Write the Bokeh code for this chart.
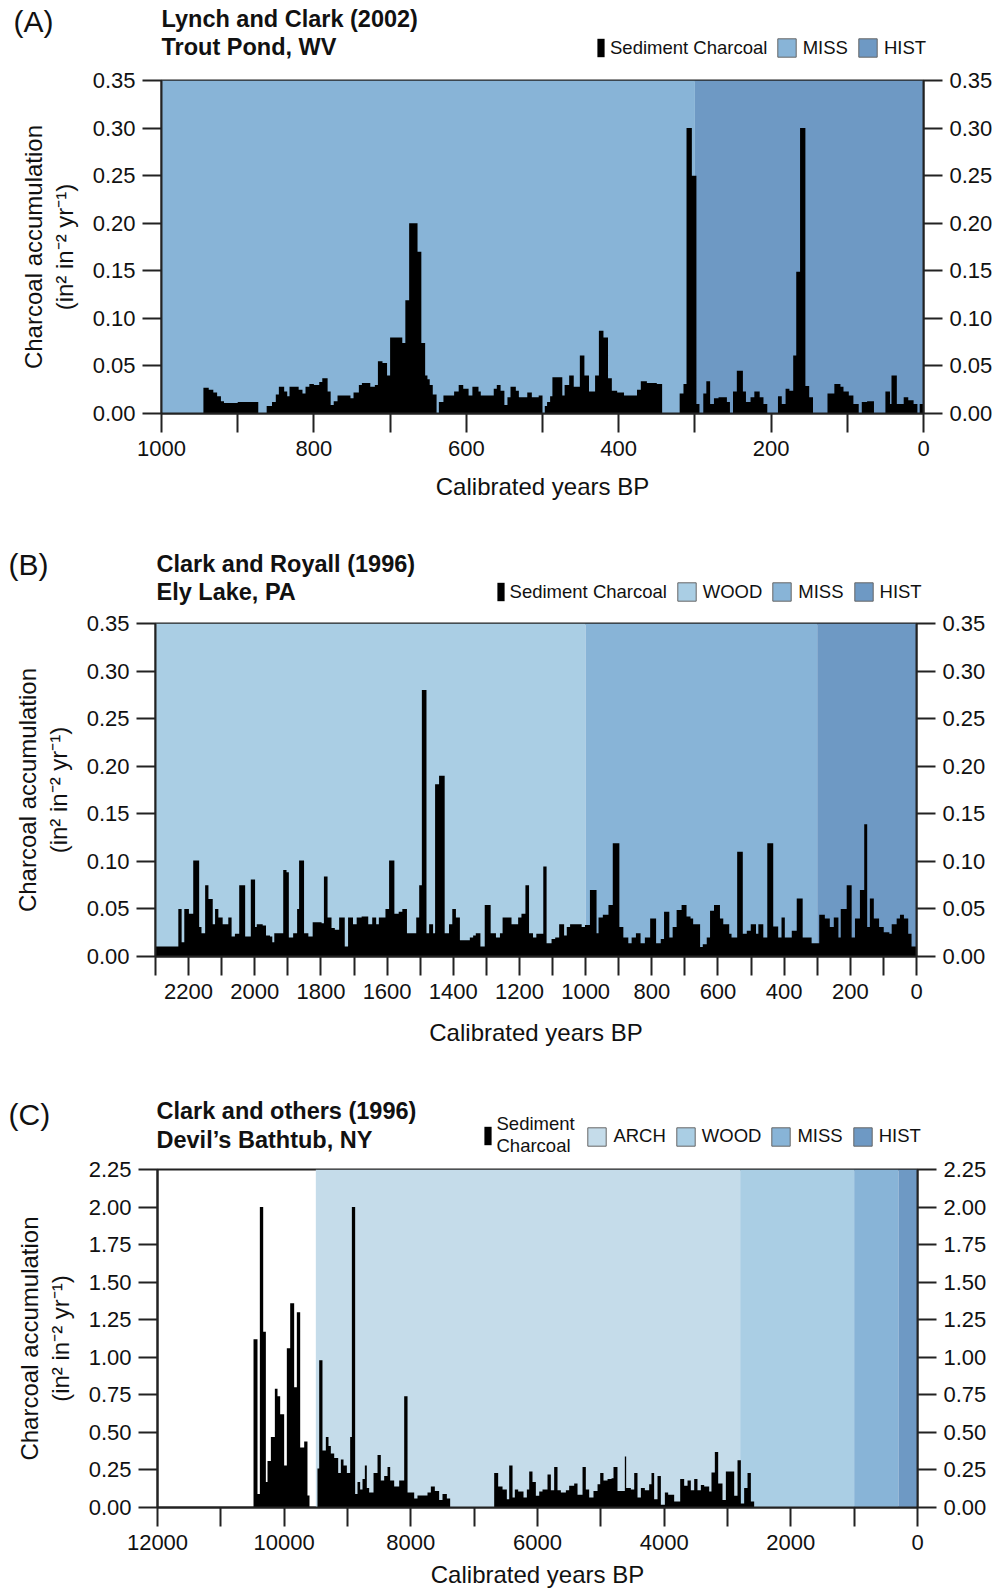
from bokeh.plotting import figure
from bokeh.models import (Range1d, FixedTicker, LinearAxis, PrintfTickFormatter,
                          Label, Legend, LegendItem)
from bokeh.layouts import column
from bokeh.embed import file_html
from bokeh.resources import INLINE

FONT = "Liberation Sans"
INK = "#111111"
AXIS = "#222222"
PAGE_W = 991
BAND_COLORS = {"ARCH": "#C5DCEA", "WOOD": "#AACEE4", "MISS": "#88B4D7", "HIST": "#6E99C4"}

# ---------------- Panel A: Trout Pond, WV ----------------
ageA = [945, 938, 932, 927, 922, 918, 900, 873, 862, 855, 850, 846, 839, 835, 832, 820, 815,
        811, 806, 800, 793, 789, 782, 778, 774, 769, 752, 748, 741, 737, 726, 720, 716, 710,
        704, 700, 684, 680, 675, 664, 659, 654, 651, 648, 644, 639, 636, 630, 616, 610, 604,
        597, 592, 584, 581, 564, 560, 555, 550, 546, 542, 535, 531, 520, 514, 505, 500, 497,
        494, 490, 487, 474, 471, 465, 459, 451, 445, 439, 431, 426, 420, 414, 409, 402, 393,
        376, 371, 363, 350, 343, 320, 315, 311, 304, 298, 294, 289, 285, 280, 275, 269, 258,
        254, 250, 245, 237, 233, 227, 222, 215, 210, 205, 191, 186, 181, 176, 171, 167, 162,
        155, 150, 145, 126, 117, 109, 105, 98, 92, 85, 81, 74, 65, 50, 44, 42, 35, 26, 20, 13,
        8, 5]
valA = [0.027, 0.025, 0.022, 0.018, 0.013, 0.011, 0.012, 0.0, 0.008, 0.012, 0.020, 0.028,
        0.023, 0.018, 0.028, 0.025, 0.021, 0.028, 0.031, 0.030, 0.033, 0.037, 0.023, 0.009,
        0.013, 0.019, 0.016, 0.022, 0.030, 0.032, 0.028, 0.030, 0.055, 0.053, 0.040, 0.080,
        0.074, 0.119, 0.200, 0.170, 0.074, 0.040, 0.036, 0.030, 0.020, 0.0, 0.012, 0.019,
        0.023, 0.030, 0.026, 0.019, 0.028, 0.023, 0.019, 0.026, 0.030, 0.024, 0.009, 0.017,
        0.028, 0.024, 0.017, 0.022, 0.017, 0.019, 0.0, 0.008, 0.012, 0.018, 0.038, 0.019,
        0.030, 0.040, 0.028, 0.061, 0.040, 0.023, 0.040, 0.087, 0.080, 0.037, 0.024, 0.022,
        0.019, 0.025, 0.034, 0.032, 0.031, 0.0, 0.021, 0.031, 0.300, 0.250, 0.010, 0.0,
        0.021, 0.034, 0.010, 0.016, 0.017, 0.012, 0.0, 0.023, 0.045, 0.023, 0.012, 0.017,
        0.023, 0.017, 0.010, 0.0, 0.018, 0.010, 0.026, 0.024, 0.061, 0.149, 0.300, 0.029,
        0.017, 0.0, 0.021, 0.031, 0.028, 0.023, 0.019, 0.010, 0.0, 0.012, 0.013, 0.0, 0.023,
        0.010, 0.040, 0.010, 0.017, 0.014, 0.010, 0.0, 0.010]
endA = 0
bandA_names = ["MISS", "HIST"]
bandA_old = [1000, 300]
bandA_young = [300, 0]
xmajorA = [1000, 800, 600, 400, 200, 0]
xminorA = [900, 700, 500, 300, 100]
yticksA = [0.00, 0.05, 0.10, 0.15, 0.20, 0.25, 0.30, 0.35]

# ---------------- Panel B: Ely Lake, PA ----------------
ageB = [2300, 2231, 2221, 2213, 2199, 2186, 2168, 2161, 2150, 2140, 2127, 2120, 2110, 2097,
        2080, 2070, 2060, 2047, 2029, 2012, 1999, 1994, 1976, 1966, 1954, 1947, 1941, 1914,
        1904, 1897, 1884, 1872, 1866, 1851, 1838, 1825, 1798, 1791, 1780, 1768, 1758, 1745,
        1728, 1718, 1703, 1692, 1677, 1657, 1645, 1633, 1625, 1605, 1594, 1578, 1565, 1554,
        1540, 1512, 1503, 1495, 1481, 1473, 1461, 1455, 1443, 1426, 1413, 1403, 1392, 1380,
        1350, 1340, 1332, 1318, 1305, 1287, 1271, 1259, 1251, 1224, 1204, 1194, 1182, 1171,
        1159, 1149, 1128, 1118, 1103, 1092, 1080, 1065, 1057, 1047, 1012, 1002, 987, 967,
        961, 948, 931, 918, 898, 886, 871, 861, 848, 834, 821, 805, 787, 773, 763, 747, 737,
        725, 710, 695, 683, 675, 654, 646, 634, 624, 612, 594, 584, 566, 559, 542, 525, 513,
        501, 485, 478, 463, 451, 433, 418, 408, 398, 377, 362, 344, 317, 294, 277, 262, 250,
        236, 229, 211, 196, 186, 171, 158, 149, 141, 129, 113, 99, 82, 75, 60, 50, 38, 25, 15]
valB = [0.0105, 0.050, 0.015, 0.050, 0.045, 0.101, 0.031, 0.0245, 0.075, 0.0605, 0.034, 0.050,
        0.041, 0.034, 0.041, 0.021, 0.024, 0.075, 0.021, 0.081, 0.031, 0.034, 0.0325, 0.022,
        0.021, 0.015, 0.0245, 0.091, 0.0885, 0.020, 0.0245, 0.050, 0.101, 0.0245, 0.021,
        0.036, 0.035, 0.084, 0.041, 0.030, 0.028, 0.041, 0.0105, 0.041, 0.034, 0.041, 0.042,
        0.034, 0.041, 0.034, 0.041, 0.050, 0.101, 0.045, 0.047, 0.050, 0.0245, 0.041, 0.075,
        0.280, 0.0245, 0.034, 0.0245, 0.181, 0.190, 0.0245, 0.034, 0.050, 0.041, 0.017,
        0.020, 0.022, 0.0245, 0.0105, 0.054, 0.0245, 0.020, 0.0245, 0.041, 0.034, 0.041,
        0.045, 0.075, 0.0245, 0.020, 0.024, 0.0945, 0.014, 0.0185, 0.020, 0.034, 0.022,
        0.031, 0.034, 0.031, 0.033, 0.070, 0.0245, 0.041, 0.044, 0.054, 0.119, 0.031, 0.020,
        0.014, 0.020, 0.0245, 0.014, 0.020, 0.040, 0.014, 0.0185, 0.047, 0.020, 0.031, 0.049,
        0.054, 0.042, 0.040, 0.034, 0.010, 0.013, 0.020, 0.048, 0.054, 0.040, 0.034, 0.024,
        0.020, 0.110, 0.024, 0.027, 0.034, 0.024, 0.034, 0.020, 0.119, 0.0315, 0.020, 0.041,
        0.020, 0.027, 0.061, 0.020, 0.014, 0.044, 0.040, 0.031, 0.041, 0.020, 0.050, 0.075,
        0.020, 0.040, 0.070, 0.139, 0.031, 0.061, 0.040, 0.031, 0.0255, 0.024, 0.034, 0.040,
        0.044, 0.040, 0.024, 0.0105]
endB = 0
bandB_names = ["WOOD", "MISS", "HIST"]
bandB_old = [2300, 1000, 300]
bandB_young = [1000, 300, 0]
xmajorB = [2200, 2000, 1800, 1600, 1400, 1200, 1000, 800, 600, 400, 200, 0]
xminorB = [2300, 2100, 1900, 1700, 1500, 1300, 1100, 900, 700, 500, 300, 100]
yticksB = [0.00, 0.05, 0.10, 0.15, 0.20, 0.25, 0.30, 0.35]

# ---------------- Panel C: Devil's Bathtub, NY ----------------
ageC = [10484, 10421, 10384, 10331, 10289, 10263, 10210, 10147, 10105, 10063, 10000, 9958,
        9905, 9842, 9800, 9747, 9684, 9632, 9600, 9474, 9447, 9395, 9342, 9300, 9263, 9210,
        9147, 9105, 9063, 9010, 8958, 8931, 8879, 8842, 8800, 8763, 8726, 8695, 8658, 8589,
        8526, 8474, 8421, 8368, 8326, 8263, 8184, 8105, 8052, 7947, 7895, 7737, 7684, 7621,
        7553, 7500, 7431, 7379, 6684, 6621, 6552, 6484, 6447, 6394, 6358, 6305, 6221, 6168,
        6131, 6079, 6026, 5973, 5921, 5842, 5789, 5737, 5684, 5631, 5552, 5500, 5421, 5368,
        5289, 5237, 5184, 5116, 5052, 5010, 4958, 4894, 4831, 4800, 4737, 4621, 4600, 4526,
        4473, 4421, 4368, 4305, 4237, 4200, 4158, 4105, 4052, 3989, 3937, 3842, 3747, 3684,
        3631, 3579, 3526, 3474, 3421, 3368, 3289, 3253, 3200, 3147, 3079, 3026, 2894, 2842,
        2789, 2737, 2684, 2631]
valC = [1.12, 0.09, 2.00, 1.17, 0.17, 0.31, 0.47, 0.79, 0.74, 0.62, 0.28, 1.06, 1.36, 0.80,
        1.30, 0.40, 0.44, 0.08, 0.0, 0.26, 0.98, 0.38, 0.47, 0.41, 0.36, 0.33, 0.23, 0.32,
        0.28, 0.23, 0.47, 2.00, 0.09, 0.17, 0.12, 0.19, 0.28, 0.13, 0.10, 0.23, 0.35, 0.18,
        0.21, 0.27, 0.18, 0.14, 0.18, 0.74, 0.10, 0.06, 0.08, 0.10, 0.14, 0.11, 0.05, 0.09,
        0.06, 0.0, 0.23, 0.14, 0.12, 0.055, 0.28, 0.067, 0.12, 0.107, 0.067, 0.12, 0.24, 0.17,
        0.078, 0.107, 0.12, 0.22, 0.115, 0.27, 0.115, 0.10, 0.115, 0.145, 0.16, 0.085, 0.27,
        0.12, 0.067, 0.11, 0.155, 0.23, 0.18, 0.19, 0.195, 0.27, 0.11, 0.34, 0.13, 0.12, 0.23,
        0.067, 0.13, 0.115, 0.155, 0.23, 0.055, 0.21, 0.018, 0.10, 0.085, 0.04, 0.19, 0.145,
        0.18, 0.115, 0.19, 0.115, 0.15, 0.14, 0.107, 0.233, 0.37, 0.16, 0.05, 0.24, 0.078,
        0.315, 0.027, 0.13, 0.23, 0.04]
endC = 2579
bandC_names = ["ARCH", "WOOD", "MISS", "HIST"]
bandC_old = [9500, 2800, 1000, 300]
bandC_young = [2800, 1000, 300, 0]
xmajorC = [12000, 10000, 8000, 6000, 4000, 2000, 0]
xminorC = [11000, 9000, 7000, 5000, 3000, 1000]
yticksC = [0.00, 0.25, 0.50, 0.75, 1.00, 1.25, 1.50, 1.75, 2.00, 2.25]


def style_axis(ax, ticker, standoff, fmt=None):
    ax.ticker = ticker
    if fmt is not None:
        ax.formatter = fmt
    ax.axis_line_color = AXIS
    ax.axis_line_width = 2
    ax.major_tick_line_color = AXIS
    ax.major_tick_line_width = 2
    ax.minor_tick_line_color = AXIS
    ax.minor_tick_line_width = 2
    ax.major_tick_out = 19
    ax.major_tick_in = 0
    ax.minor_tick_out = 19
    ax.minor_tick_in = 0
    ax.major_label_text_font = FONT
    ax.major_label_text_font_size = "22px"
    ax.major_label_text_color = INK
    ax.major_label_standoff = standoff
    ax.axis_label_text_font = FONT
    ax.axis_label_text_font_size = "24px"
    ax.axis_label_text_font_style = "normal"
    ax.axis_label_text_color = INK


def header(h, g, letter, title1, title2, band_names, char_label):
    """Strip above a panel: panel letter, title and legend (pixel coordinates)."""
    hp = figure(width=PAGE_W, height=h, x_range=Range1d(0, PAGE_W), y_range=Range1d(0, h),
                min_border=0, min_border_left=0, min_border_right=0, min_border_top=0,
                min_border_bottom=0, x_axis_type=None, y_axis_type=None,
                title_location=None, frame_align=False,
                output_backend="svg", toolbar_location=None)
    hp.xgrid.visible = False
    hp.ygrid.visible = False
    hp.outline_line_color = None
    hp.background_fill_color = "white"
    hp.border_fill_color = "white"

    def lab(text, x, y, size, style="normal"):
        hp.add_layout(Label(x=x, y=y, text=text, text_font=FONT, text_font_size=size,
                            text_font_style=style, text_color=INK, text_align="left",
                            text_baseline="alphabetic"))

    lab(letter, g["letter"][0], g["letter"][1], "30px")
    lab(title1, g["title_x"], g["title_y"][0], "23.5px", "bold")
    lab(title2, g["title_x"], g["title_y"][1], "23.5px", "bold")

    # legend key renderers: one off-canvas item each, so the legend can draw its key
    off_l, off_r = [-40], [-30]
    r_char = hp.quad(left=off_l, right=off_r, bottom=[0], top=[1],
                     fill_color="black", line_color=None)
    leg1 = Legend(items=[LegendItem(label=char_label, renderers=[r_char])],
                  location=(g["leg_char"][0], g["leg_char"][1]),
                  orientation="horizontal", glyph_width=9, glyph_height=23,
                  label_height=18, label_standoff=5, padding=0, margin=0, spacing=0,
                  border_line_alpha=0, background_fill_alpha=0,
                  label_text_font=FONT, label_text_font_size="18.5px", label_text_color=INK,
                  label_text_line_height=1.0)
    hp.add_layout(leg1)
    items = []
    for n in band_names:
        r = hp.quad(left=off_l, right=off_r, bottom=[0], top=[1], fill_color=BAND_COLORS[n],
                    line_color="#666666", line_width=1)
        items.append(LegendItem(label=n, renderers=[r]))
    leg2 = Legend(items=items, location=(g["leg_sw"][0], g["leg_sw"][1]),
                  orientation="horizontal", glyph_width=23, glyph_height=23,
                  label_height=18, label_standoff=5, padding=0, margin=0, spacing=8,
                  border_line_alpha=0, background_fill_alpha=0,
                  label_text_font=FONT, label_text_font_size="18.5px", label_text_color=INK)
    hp.add_layout(leg2)
    return hp


def panel(ages, vals, end_age, xmax, xmajor, xminor, ymax, yticks,
          band_names, band_old, band_young, g):
    p = figure(frame_width=g["fw"], frame_height=g["fh"],
               min_border_left=g["left"], min_border_right=PAGE_W - g["left"] - g["fw"],
               min_border_top=14, min_border_bottom=g["bottom"],
               x_range=Range1d(xmax, 0), y_range=Range1d(0, ymax),
               title_location=None, frame_align=False,
               output_backend="svg", toolbar_location=None)
    p.xgrid.visible = False
    p.ygrid.visible = False
    p.background_fill_color = "white"
    p.border_fill_color = "white"
    p.outline_line_color = AXIS
    p.outline_line_width = 2
    p.outline_line_alpha = 1.0

    # period bands (ARCH / WOOD / MISS / HIST)
    p.quad(left=band_old, right=band_young, bottom=[0] * len(band_names),
           top=[ymax] * len(band_names),
           fill_color=[BAND_COLORS[n] for n in band_names], line_color=None)

    # sediment charcoal accumulation, drawn as a filled step series
    xs = list(ages) + [end_age]
    ys = list(vals) + [vals[-1]]
    p.varea_step(x=xs, y1=[0] * len(xs), y2=ys, step_mode="after", fill_color="black")

    xax = p.xaxis[0]
    style_axis(xax, FixedTicker(ticks=xmajor, minor_ticks=xminor), 8)
    xax.axis_label = "Calibrated years BP"
    xax.axis_label_standoff = g["xlab_standoff"]

    yax = p.yaxis[0]
    style_axis(yax, FixedTicker(ticks=yticks), 7, PrintfTickFormatter(format="%.2f"))
    yax.axis_label = "Charcoal accumulation\n(in\u00b2 in\u207b\u00b2 yr\u207b\u00b9)"
    yax.axis_label_standoff = 12
    yax.axis_label_text_line_height = 1.14

    yr = LinearAxis()
    style_axis(yr, FixedTicker(ticks=yticks), 7, PrintfTickFormatter(format="%.2f"))
    p.add_layout(yr, "right")
    return p


# header strips and panel geometry (pixels)
geomA = dict(left=161, fw=762, fh=333, bottom=135, xlab_standoff=14,
             letter=(13, 44.7), title_x=161, title_y=(47.3, 19.3),
             leg_char=(596, 6.9), leg_sw=(774.7, 6.9))
geomB = dict(left=155, fw=761, fh=333, bottom=129, xlab_standoff=17,
             letter=(8, 45), title_x=156, title_y=(45.5, 17.5),
             leg_char=(495.6, 5.7), leg_sw=(674.7, 5.7))
geomC = dict(left=157, fw=760, fh=338, bottom=82, xlab_standoff=8,
             letter=(8, 41.5), title_x=156, title_y=(45, 16),
             leg_char=(482.5, -2), leg_sw=(585.4, 7.5))

hA = header(66, geomA, "(A)", "Lynch and Clark (2002)", "Trout Pond, WV",
            bandA_names, "Sediment Charcoal")
pA = panel(ageA, valA, endA, 1000, xmajorA, xminorA, 0.35, yticksA,
           bandA_names, bandA_old, bandA_young, geomA)
hB = header(61, geomB, "(B)", "Clark and Royall (1996)", "Ely Lake, PA",
            bandB_names, "Sediment Charcoal")
pB = panel(ageB, valB, endB, 2300, xmajorB, xminorB, 0.35, yticksB,
           bandB_names, bandB_old, bandB_young, geomB)
hC = header(70, geomC, "(C)", "Clark and others (1996)", "Devil\u2019s Bathtub, NY",
            bandC_names, "Sediment\nCharcoal")
pC = panel(ageC, valC, endC, 12000, xmajorC, xminorC, 2.25, yticksC,
           bandC_names, bandC_old, bandC_young, geomC)

page = column(hA, pA, hB, pB, hC, pC, spacing=0)
open("out.html", "w").write(file_html(page, INLINE))
